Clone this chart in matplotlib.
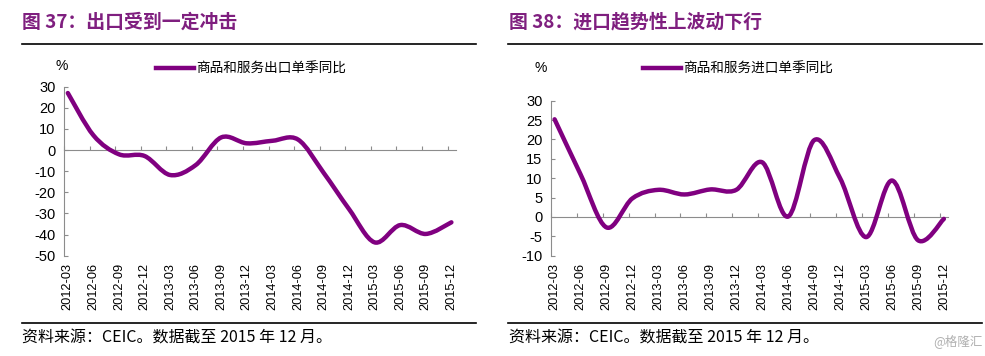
import numpy as np
import matplotlib
matplotlib.use('Agg')
import matplotlib.pyplot as plt
from matplotlib.path import Path
from matplotlib.patches import PathPatch
from matplotlib.lines import Line2D

plt.rcParams['font.family'] = ['Liberation Sans', 'Noto Sans CJK SC']
plt.rcParams['axes.unicode_minus'] = False

# quarters shown on both charts
quarters = ['2012-03', '2012-06', '2012-09', '2012-12',
            '2013-03', '2013-06', '2013-09', '2013-12',
            '2014-03', '2014-06', '2014-09', '2014-12',
            '2015-03', '2015-06', '2015-09', '2015-12']

# goods & services exports, quarterly yoy (%)
exports = [27, 7, -2, -2.8, -11.8, -7.1, 6, 3.2,
           4.4, 5, -10.7, -28, -43.7, -35.5, -39.7, -34.2]

# goods & services imports, quarterly yoy (%)
imports = [25.2, 11, -2.7, 4.8, 7, 5.8, 7.1, 7,
           14.1, 0.1, 19.8, 10, -5.2, 9.4, -6.0, -0.5]

titles = ['图 37：出口受到一定冲击', '图 38：进口趋势性上波动下行']
legend_labels = ['商品和服务出口单季同比', '商品和服务进口单季同比']
source = '资料来源：CEIC。数据截至 2015 年 12 月。'

purple = '#800080'
title_color = '#7f1f7f'
grey = '#8c8c8c'
cjk = ['Noto Sans CJK SC', 'DejaVu Sans']


def smooth_path(x, y):
    # bezier segments like a spreadsheet "smoothed line"
    x = np.asarray(x, float)
    y = np.asarray(y, float)
    n = len(x)
    verts = [(x[0], y[0])]
    codes = [Path.MOVETO]
    for i in range(n - 1):
        x0, y0 = (x[i - 1], y[i - 1]) if i > 0 else (x[i], y[i])
        x3, y3 = (x[i + 2], y[i + 2]) if i + 2 < n else (x[i + 1], y[i + 1])
        c1 = (x[i] + (x[i + 1] - x0) / 6, y[i] + (y[i + 1] - y0) / 6)
        c2 = (x[i + 1] - (x3 - x[i]) / 6, y[i + 1] - (y3 - y[i]) / 6)
        verts += [c1, c2, (x[i + 1], y[i + 1])]
        codes += [Path.CURVE4] * 3
    return Path(verts, codes)


fig = plt.figure(figsize=(9.85, 3.56), dpi=100)

panels = [
    dict(rect=[64 / 985, 100.3 / 356, 392 / 985, 169 / 356], data=exports,
         ylim=(-50, 30), yticks=np.arange(-50, 31, 10), xlim=(-0.14, 15.18),
         title_x=22 / 985, rule=(22, 476), pct=(61.7, 65.7), leg=(251, 69)),
    dict(rect=[550.7 / 985, 100.3 / 356, 397.6 / 985, 155 / 356], data=imports,
         ylim=(-10, 30), yticks=np.arange(-10, 31, 5), xlim=(-0.13, 15.17),
         title_x=509 / 985, rule=(508, 982), pct=(540.7, 68.3), leg=(738, 69)),
]

x = np.arange(len(quarters))
for k, p in enumerate(panels):
    ax = fig.add_axes(p['rect'])
    patch = PathPatch(smooth_path(x, p['data']), fill=False, edgecolor=purple,
                      lw=3.2, capstyle='round', joinstyle='round', zorder=3)
    ax.add_patch(patch)
    ax.set_xlim(*p['xlim'])
    ax.set_ylim(*p['ylim'])

    for s in ['top', 'right']:
        ax.spines[s].set_visible(False)
    ax.spines['left'].set_color(grey)
    ax.spines['bottom'].set_color(grey)
    ax.spines['bottom'].set_position(('data', 0))

    ax.set_yticks(p['yticks'])
    ax.tick_params(axis='y', direction='in', length=3, color=grey,
                   labelsize=10.5, pad=6)
    ax.set_xticks(x - 0.15)
    ax.tick_params(axis='x', direction='in', length=3, color=grey,
                   labelbottom=False)

    sec = ax.secondary_xaxis(0.0)
    sec.set_xticks(x, labels=quarters, rotation=90)
    sec.tick_params(length=0, labelsize=9.2, pad=5)
    sec.spines['bottom'].set_visible(False)

    ax.legend(handles=[Line2D([], [], color=purple, lw=3.2)],
              labels=[legend_labels[k]], loc='center',
              bbox_to_anchor=(p['leg'][0] / 985, 1 - p['leg'][1] / 356),
              bbox_transform=fig.transFigure, frameon=False,
              prop={'family': cjk, 'size': 9.8},
              handlelength=2.8, handletextpad=0.15)

    fig.text(p['pct'][0] / 985, 1 - p['pct'][1] / 356, '%', fontsize=10,
             ha='center', va='center')

    fig.text(p['title_x'], 1 - 22 / 356, titles[k], family=cjk,
             fontsize=13.6, fontweight='bold', color=title_color,
             ha='left', va='center')
    r0, r1 = p['rule']
    fig.add_artist(Line2D([r0 / 985, r1 / 985], [1 - 44 / 356] * 2,
                          color='black', lw=1.2))
    fig.add_artist(Line2D([r0 / 985, r1 / 985], [1 - 323 / 356] * 2,
                          color='black', lw=1.2))
    fig.text(p['title_x'], 1 - 338 / 356, source, family=cjk, fontsize=11.5,
             ha='left', va='center')

fig.text(983 / 985, 1 - 341 / 356, '@格隆汇', family=cjk, fontsize=9,
         color='#b0b0b0', ha='right', va='center')

fig.savefig('out.png', dpi=100)
